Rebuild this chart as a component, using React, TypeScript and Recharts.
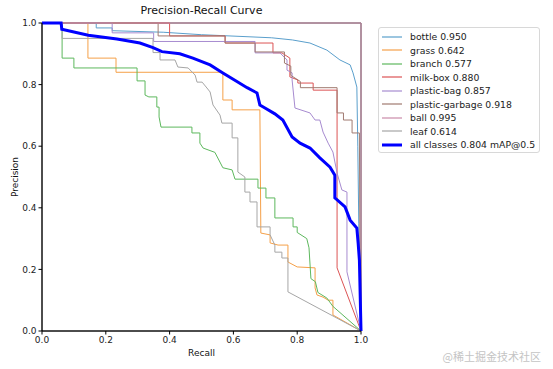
import { LineChart, Line, XAxis, YAxis, ReferenceArea } from "recharts";

type Pt = [number, number]; // [recall, precision]

const classNames = [
  "bottle",
  "grass",
  "branch",
  "milk-box",
  "plastic-bag",
  "plastic-garbage",
  "ball",
  "leaf",
];
const apValues = [0.95, 0.642, 0.577, 0.88, 0.857, 0.918, 0.995, 0.614];
const mapAll = 0.804;
const ticks = [0, 0.2, 0.4, 0.6, 0.8, 1.0];

const bottle: Pt[] = [
  [0, 1], [0.17, 1], [0.17, 0.984], [0.22, 0.984], [0.22, 0.975], [0.38, 0.97],
  [0.5, 0.962], [0.72, 0.952], [0.785, 0.945], [0.84, 0.935], [0.893, 0.912],
  [0.934, 0.88], [0.966, 0.864], [0.975, 0.838], [0.987, 0.792], [0.99, 0.6],
  [0.993, 0.35], [0.997, 0.1], [1, 0],
];
const grass: Pt[] = [
  [0, 1], [0.144, 1], [0.144, 0.886], [0.232, 0.886], [0.232, 0.84], [0.567, 0.84],
  [0.567, 0.75], [0.596, 0.75], [0.596, 0.718], [0.683, 0.718], [0.686, 0.318],
  [0.715, 0.312], [0.715, 0.286], [0.74, 0.279], [0.771, 0.279], [0.771, 0.224],
  [0.8, 0.208], [0.856, 0.205], [0.856, 0.14], [0.862, 0.117], [0.881, 0.11],
  [0.897, 0.1], [0.912, 0.1], [0.912, 0.052], [1, 0],
];
const branch: Pt[] = [
  [0, 1], [0.063, 1], [0.063, 0.886], [0.1, 0.886], [0.1, 0.854], [0.298, 0.854],
  [0.298, 0.812], [0.323, 0.812], [0.323, 0.766], [0.335, 0.76], [0.36, 0.76],
  [0.36, 0.727], [0.367, 0.727], [0.367, 0.695], [0.373, 0.662], [0.47, 0.662],
  [0.47, 0.643], [0.495, 0.643], [0.495, 0.61], [0.505, 0.594], [0.542, 0.58],
  [0.567, 0.53], [0.596, 0.523], [0.605, 0.493], [0.677, 0.493], [0.677, 0.464],
  [0.702, 0.464], [0.702, 0.432], [0.73, 0.432], [0.73, 0.367], [0.787, 0.367],
  [0.787, 0.338], [0.8, 0.338], [0.8, 0.32], [0.83, 0.3], [0.837, 0.27],
  [0.843, 0.17], [0.857, 0.16], [0.865, 0.125], [0.893, 0.107], [0.912, 0.08],
  [1, 0],
];
const milkBox: Pt[] = [
  [0, 1], [0.4, 1], [0.4, 0.958], [0.574, 0.958], [0.574, 0.935], [0.724, 0.935],
  [0.724, 0.903], [0.752, 0.903], [0.777, 0.886], [0.777, 0.825], [0.802, 0.815],
  [0.802, 0.805], [0.85, 0.805], [0.85, 0.782], [0.925, 0.782], [0.925, 0.205],
  [1, 0],
];
const plasticBag: Pt[] = [
  [0, 1], [0.22, 1], [0.22, 0.968], [0.35, 0.968], [0.35, 0.94], [0.668, 0.94],
  [0.668, 0.903], [0.746, 0.903], [0.768, 0.88], [0.768, 0.847], [0.784, 0.838],
  [0.784, 0.815], [0.793, 0.724], [0.84, 0.708], [0.856, 0.685], [0.871, 0.685],
  [0.881, 0.646], [0.897, 0.61], [0.912, 0.581], [0.925, 0.513], [0.94, 0.458],
  [0.956, 0.451], [0.956, 0.192], [1, 0],
];
const plasticGarbage: Pt[] = [
  [0, 1], [0.364, 1], [0.364, 0.958], [0.574, 0.958], [0.574, 0.935], [0.668, 0.935],
  [0.668, 0.906], [0.76, 0.906], [0.76, 0.87], [0.78, 0.86], [0.78, 0.83],
  [0.81, 0.81], [0.81, 0.79], [0.925, 0.79], [0.925, 0.708], [0.945, 0.708],
  [0.945, 0.685], [0.972, 0.685], [0.972, 0.643], [0.995, 0.643], [0.997, 0.2],
  [1, 0],
];
const ball: Pt[] = [[0, 1], [1, 1], [1, 0]];
const leaf: Pt[] = [
  [0, 1], [0.063, 1], [0.063, 0.95], [0.348, 0.95], [0.348, 0.904], [0.37, 0.904],
  [0.37, 0.88], [0.417, 0.88], [0.426, 0.857], [0.458, 0.854], [0.48, 0.831],
  [0.486, 0.808], [0.502, 0.808], [0.517, 0.789], [0.527, 0.776], [0.536, 0.734],
  [0.558, 0.701], [0.564, 0.675], [0.596, 0.675], [0.596, 0.627], [0.614, 0.627],
  [0.614, 0.516], [0.636, 0.5], [0.636, 0.451], [0.652, 0.451], [0.652, 0.419],
  [0.674, 0.419], [0.674, 0.338], [0.715, 0.338], [0.715, 0.312], [0.73, 0.279],
  [0.73, 0.256], [0.752, 0.256], [0.752, 0.237], [0.771, 0.237], [0.771, 0.127],
  [1, 0],
];
const allClasses: Pt[] = [
  [0, 1], [0.06, 1], [0.062, 0.98], [0.145, 0.96], [0.235, 0.948], [0.307, 0.935],
  [0.348, 0.92], [0.376, 0.907], [0.432, 0.9], [0.473, 0.886], [0.527, 0.864],
  [0.567, 0.838], [0.611, 0.81], [0.643, 0.79], [0.674, 0.773], [0.683, 0.734],
  [0.699, 0.724], [0.73, 0.705], [0.755, 0.685], [0.784, 0.63], [0.809, 0.61],
  [0.84, 0.594], [0.871, 0.562], [0.903, 0.532], [0.918, 0.506], [0.918, 0.432],
  [0.95, 0.403], [0.966, 0.36], [0.987, 0.334], [0.991, 0.286], [0.995, 0.23],
  [1, 0],
];

const curves = [bottle, grass, branch, milkBox, plasticBag, plasticGarbage, ball, leaf];
const colors = [
  "#5a9fcc", "#f5a048", "#5db85d", "#dc5354",
  "#a78bd0", "#a07a70", "#c98aa8", "#a6a6a6",
];

const font = "'DejaVu Sans', sans-serif";
const toRows = (pts: Pt[]) => pts.map(([r, p]) => ({ r, p }));
const fmt = (v: number) => v.toFixed(1);

function LegendBox() {
  const items = classNames.map((n, i) => ({
    label: `${n} ${apValues[i].toFixed(3)}`,
    color: colors[i],
    w: 1.2,
  }));
  items.push({ label: `all classes ${mapAll.toFixed(3)} mAP@0.5`, color: "#0000ff", w: 3 });
  return (
    <div
      style={{
        position: "absolute",
        left: 378,
        top: 27,
        width: 162,
        height: 126,
        border: "1px solid #d8d8d8",
        borderRadius: 3,
        background: "#fff",
        boxSizing: "border-box",
        fontFamily: font,
        fontSize: 9.3,
        color: "#222",
      }}
    >
      {items.map((it, i) => (
        <div
          key={it.label}
          style={{ position: "absolute", left: 2, top: 2 + i * 13.5, height: 13.5, display: "flex", alignItems: "center", whiteSpace: "nowrap" }}
        >
          <svg width={22} height={6} style={{ marginRight: 7 }}>
            <line x1={1} x2={21} y1={3} y2={3} stroke={it.color} strokeWidth={it.w} />
          </svg>
          <span>{it.label}</span>
        </div>
      ))}
    </div>
  );
}

export default function App() {
  return (
    <div style={{ position: "absolute", left: 0, top: 0, width: 553, height: 369, background: "#fff" }}>
      <LineChart width={553} height={369} margin={{ top: 23, right: 192, bottom: 18, left: 12 }}>
        <XAxis
          dataKey="r"
          type="number"
          domain={[0, 1]}
          ticks={ticks}
          tickFormatter={fmt}
          height={20}
          tickSize={3.5}
          allowDuplicatedCategory={false}
          stroke="#000"
          tick={{ fill: "#222", fontSize: 9, fontFamily: font }}
        />
        <YAxis
          type="number"
          domain={[0, 1]}
          ticks={ticks}
          tickFormatter={fmt}
          width={30}
          tickSize={3.5}
          stroke="#000"
          tick={{ fill: "#222", fontSize: 9, fontFamily: font }}
        />
        <ReferenceArea x1={0} x2={1} y1={0} y2={1} fill="none" stroke="#000" strokeWidth={0.8} ifOverflow="visible" />
        {curves.map((c, i) => (
          <Line
            key={classNames[i]}
            data={toRows(c)}
            dataKey="p"
            type="linear"
            stroke={colors[i]}
            strokeWidth={1}
            dot={false}
            activeDot={false}
            isAnimationActive={false}
          />
        ))}
        <Line
          data={toRows(allClasses)}
          dataKey="p"
          type="linear"
          stroke="#0000ff"
          strokeWidth={3}
          dot={false}
          activeDot={false}
          isAnimationActive={false}
        />
      </LineChart>
      <div style={{ position: "absolute", left: 42, width: 319, top: 4, textAlign: "center", fontFamily: font, fontSize: 11, color: "#111" }}>
        Precision-Recall Curve
      </div>
      <div style={{ position: "absolute", left: 42, width: 319, top: 348, textAlign: "center", fontFamily: font, fontSize: 9, color: "#111" }}>
        Recall
      </div>
      <div
        style={{
          position: "absolute",
          left: 15,
          top: 177,
          transform: "translate(-50%, -50%) rotate(-90deg)",
          fontFamily: font,
          fontSize: 9,
          color: "#111",
          whiteSpace: "nowrap",
        }}
      >
        Precision
      </div>
      <LegendBox />
      <div style={{ position: "absolute", right: 12, top: 348, fontFamily: "'Noto Sans CJK SC', sans-serif", fontSize: 11, color: "#c4c4c4" }}>
        @稀土掘金技术社区
      </div>
    </div>
  );
}
